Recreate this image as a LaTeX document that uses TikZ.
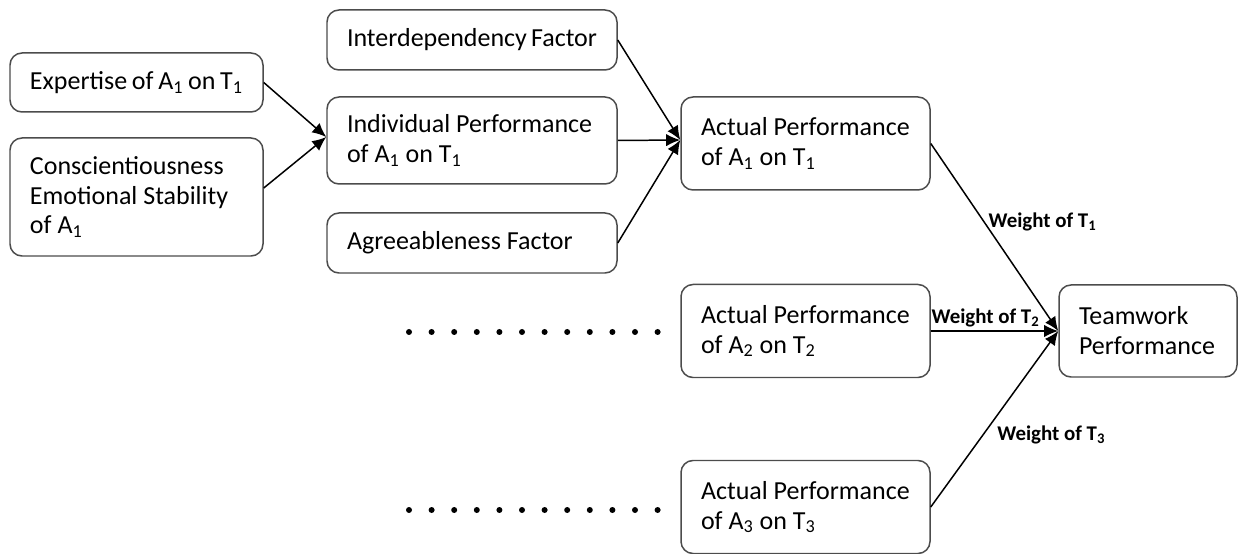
\documentclass[tikz,border=0pt]{standalone}
\usepackage{fontspec}
\setmainfont{Carlito}
\usetikzlibrary{arrows.meta}

\begin{document}
\begin{tikzpicture}[x=0.2mm,y=-0.2mm,
	every node/.style={font=\fontsize{14.8}{17}\selectfont},
	box/.style={draw=black!70,line width=0.85pt,rounded corners=2.4mm,align=flush left,inner xsep=4mm,inner ysep=0pt},
	lbox/.style={box,text width=42.6mm},
	mbox/.style={box,text width=50mm},
	rbox/.style={box,text width=41.8mm,minimum height=18.6mm},
	tbox/.style={box,text width=27.6mm,minimum height=18.4mm},
	wlabel/.style={font=\fontsize{11.9}{13}\selectfont\bfseries,inner sep=2pt},
	conn/.style={-{Latex[length=8pt,width=7pt]},line width=0.85pt}]
	\useasboundingbox (0,0) rectangle (1243,554);
	
	%inputs of agent A1
	\node[lbox,minimum height=11.8mm] (expertise) at (136.5,82.5) {Expertise~of~A\textsubscript{1}~on~T\textsubscript{1}};
	\node[lbox,minimum height=23.6mm] (consc) at (136.5,197) {Conscientiousness\\Emotional~Stability\\of A\textsubscript{1}};
	
	%factors
	\node[mbox,minimum height=12mm] (interdep) at (472,40) {Interdependency~Factor};
	\node[mbox,minimum height=17.4mm] (indiv) at (472,140.5) {Individual~Performance\\of A\textsubscript{1} on T\textsubscript{1}};
	\node[mbox,minimum height=12mm] (agree) at (472,243) {Agreeableness~Factor};
	
	%actual performances
	\node[rbox] (actual1) at (805.5,143.5) {Actual~Performance\\of A\textsubscript{1} on T\textsubscript{1}};
	\node[rbox] (actual2) at (805.5,331) {Actual~Performance\\of A\textsubscript{2} on T\textsubscript{2}};
	\node[rbox] (actual3) at (805.5,507) {Actual~Performance\\of A\textsubscript{3} on T\textsubscript{3}};
	
	\node[tbox] (team) at (1148,331) {Teamwork\\Performance};
	
	%the other agents, left out
	\foreach \y in {332,510}{
		\foreach \i in {0,...,11}
		\fill (409+22.6*\i,\y) circle (0.6mm);
	}
	
	%connectors
	\draw[conn] (expertise.east) -- ([yshift=0.7mm]indiv.west);
	\draw[conn] ([yshift=1.8mm]consc.east) -- ([yshift=0.7mm]indiv.west);
	\draw[conn] (interdep.east) -- ([yshift=0.7mm]actual1.west);
	\draw[conn] (indiv.east) -- ([yshift=0.7mm]actual1.west);
	\draw[conn] (agree.east) -- ([yshift=0.7mm]actual1.west);
	
	\draw[conn] (actual1.east) -- node[wlabel,pos=0.42,right] {Weight of T\textsubscript{1}} (team.west);
	\draw[conn] (actual2.east) -- node[wlabel,pos=0.43,above] {Weight of T\textsubscript{2}} (team.west);
	\draw[conn] (actual3.east) -- node[wlabel,pos=0.41,right,xshift=2mm] {Weight of T\textsubscript{3}} (team.west);
\end{tikzpicture}
\end{document}
